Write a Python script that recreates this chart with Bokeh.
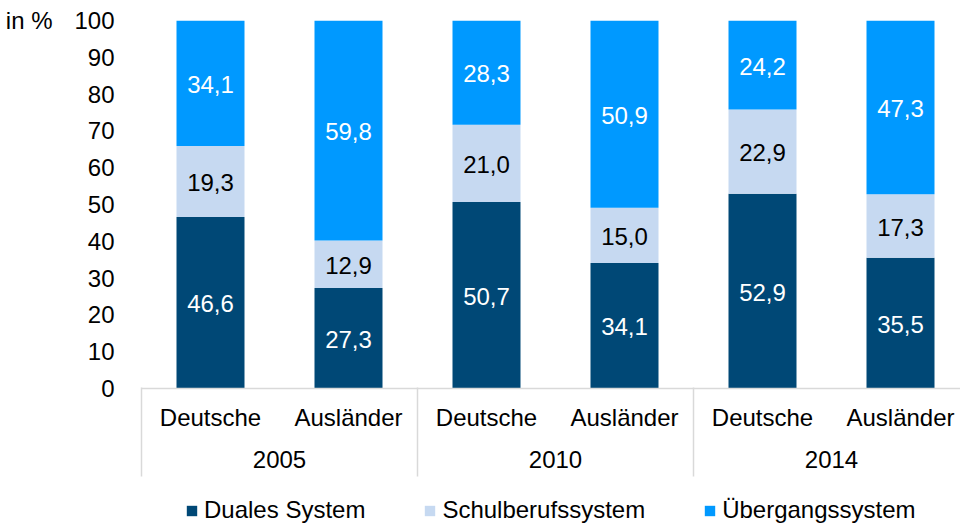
from bokeh.plotting import figure
from bokeh.layouts import column
from bokeh.models import FixedTicker, LinearAxis, ColumnDataSource, Legend, Range1d
from bokeh.core.properties import value
from bokeh.embed import file_html
from bokeh.resources import INLINE
import numpy as np

# ---- data ----
groups = ["Deutsche", "Ausländer", "Deutsche", "Ausländer", "Deutsche", "Ausländer"]
years = ["2005", "2010", "2014"]
duales = [46.6, 27.3, 50.7, 34.1, 52.9, 35.5]
schul = [19.3, 12.9, 21.0, 15.0, 22.9, 17.3]
ueber = [34.1, 59.8, 28.3, 50.9, 24.2, 47.3]
series_names = ["Duales System", "Schulberufssystem", "Übergangssystem"]
y_ticks = list(range(0, 101, 10))
y_unit = "in %"

FONT = "Liberation Sans"
FS = "24px"
colors = ["#004876", "#C6D9F1", "#0099FF"]
label_colors = ["#FFFFFF", "#000000", "#FFFFFF"]
GRAY = "#D9D9D9"
stackers = ["duales", "schul", "ueber"]

x = np.arange(len(groups)) + 0.5
src = ColumnDataSource(dict(x=x, duales=duales, schul=schul, ueber=ueber))

W = 960
H_MAIN, H_LEG = 494, 30
LEFT = 141
CAT_PX = 138
p = figure(width=W, height=H_MAIN, output_backend="svg", toolbar_location=None,
           x_range=Range1d(0, (W - LEFT) / CAT_PX), y_range=Range1d(0, 100),
           min_border_left=LEFT, min_border_right=0, min_border_top=20, min_border_bottom=106)
p.outline_line_color = None
p.xgrid.visible = False
p.ygrid.visible = False

p.vbar_stack(stackers, x="x", width=68 / CAT_PX, source=src, color=colors, line_color=None)

# value labels
stack = [duales, schul, ueber]
bottom = np.zeros(len(groups))
for vals, tc in zip(stack, label_colors):
    v = np.array(vals)
    yc = bottom + v / 2
    txt = [f"{a:.1f}".replace(".", ",") for a in v]
    p.text(x=list(x), y=list(yc), text=txt, text_align="center", text_baseline="middle",
           text_font=value(FONT), text_font_size=FS, text_color=tc, y_offset=1)
    bottom = bottom + v


def plain(ax):
    ax.axis_line_color = None
    ax.major_tick_line_color = None
    ax.minor_tick_line_color = None
    ax.major_tick_out = 0
    ax.major_tick_in = 0
    ax.minor_tick_out = 0
    ax.minor_tick_in = 0
    ax.major_label_text_font = FONT
    ax.major_label_text_font_size = FS
    ax.major_label_text_color = "#000000"


# y axis
yax = p.yaxis[0]
yax.ticker = FixedTicker(ticks=y_ticks)
plain(yax)
yax.major_label_standoff = 27

# unit label as a second left axis ("in %" next to the top tick)
ua = LinearAxis(ticker=FixedTicker(ticks=[y_ticks[-1]]),
                major_label_overrides={y_ticks[-1]: y_unit})
plain(ua)
ua.major_label_standoff = 19
p.add_layout(ua, "left")

# x axis: sub categories
xax = p.xaxis[0]
xax.ticker = FixedTicker(ticks=list(x))
xax.major_label_overrides = {float(xi): g for xi, g in zip(x, groups)}
plain(xax)
xax.axis_line_color = GRAY
xax.axis_line_width = 1.5
xax.major_label_standoff = 15

# year axis
year_pos = [2 * i + 1 for i in range(len(years))]
yr = LinearAxis(ticker=FixedTicker(ticks=year_pos),
                major_label_overrides={int(v): t for v, t in zip(year_pos, years)})
plain(yr)
yr.major_label_standoff = 17
p.add_layout(yr, "below")

# group separators (ticks reaching up to the frame)
sep_pos = [2 * i for i in range(len(years) + 1)]
sp = LinearAxis(ticker=FixedTicker(ticks=[], minor_ticks=sep_pos))
plain(sp)
sp.major_label_text_font_size = "0px"
sp.major_label_standoff = 0
sp.minor_tick_line_color = GRAY
sp.minor_tick_line_width = 1.5
sp.minor_tick_in = 83
sp.minor_tick_out = 6
p.add_layout(sp, "below")

# legend strip (separate small figure below the chart)
pl = figure(width=W, height=H_LEG, output_backend="svg", toolbar_location=None,
            x_range=Range1d(0, 1), y_range=Range1d(0, 1),
            min_border_left=0, min_border_right=0, min_border_top=0, min_border_bottom=0)
pl.outline_line_color = None
pl.axis.visible = False
pl.xgrid.visible = False
pl.ygrid.visible = False
lr = pl.vbar_stack(stackers, x="x", width=0.5, source=src, color=colors, line_color=None)
for r in lr:
    r.visible = False
legend = Legend(items=[(n, [r]) for n, r in zip(series_names, lr)],
                orientation="horizontal", location=(44, 0),
                border_line_color=None, background_fill_alpha=0,
                inactive_fill_alpha=0,
                label_text_font=FONT, label_text_font_size=FS, label_text_color="#000000",
                glyph_width=13, glyph_height=13, label_standoff=6, spacing=58,
                padding=0, margin=0)
pl.add_layout(legend)

layout = column(p, pl, spacing=0)
open("out.html", "w").write(file_html(layout, INLINE))
